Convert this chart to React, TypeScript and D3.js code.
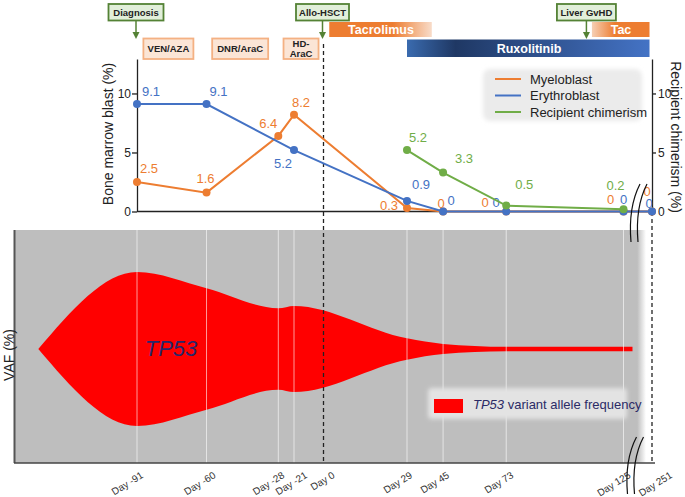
import React, { useEffect, useRef } from 'react';
import * as d3 from 'd3';

// Timeline (days relative to transplant)
const tickDays = [-91, -60, -28, -21, 0, 29, 45, 73, 125, 251];
const tickLabels = ['Day -91', 'Day -60', 'Day -28', 'Day -21', 'Day 0', 'Day 29', 'Day 45', 'Day 73', 'Day 125', 'Day 251'];

// Bone marrow blast (%)
const myeloDays = [-91, -60, -28, -21, 29, 45, 73, 125, 251];
const myeloValues = [2.5, 1.6, 6.4, 8.2, 0.3, 0, 0, 0, 0];
const erythroDays = [-91, -60, -21, 29, 45, 73, 125, 251];
const erythroValues = [9.1, 9.1, 5.2, 0.9, 0, 0, 0, 0];

// Recipient chimerism (%)
const chimDays = [29, 45, 73, 125];
const chimValues = [5.2, 3.3, 0.5, 0.2];

// TP53 VAF (%), drawn as a symmetric band
const vafDays = [-135, -91, -60, -28, -21, 29, 45, 73, 125];
const vafValues = [0, 44, 34.7, 23.3, 24.6, 6.1, 2.9, 1.3, 1.3];

// Annotations
const events = ['Diagnosis', 'Allo-HSCT', 'Liver GvHD'];
const eventDays = [-91, 0, 109];
const treatments = [['VEN/AZA'], ['DNR/AraC'], ['HD-', 'AraC']];
const treatmentDays = [-77, -45, -16];
const drugs = ['Tacrolimus', 'Ruxolitinib', 'Tac'];
const drugStart = [2, 29, 111];
const drugEnd = [40, 240, 240];

const seriesNames = ['Myeloblast', 'Erythroblast', 'Recipient chimerism'];

const ORANGE = '#ED7D31';
const BLUE = '#4472C4';
const GREEN = '#70AD47';
const FONT = '"Liberation Sans", Arial, sans-serif';

// value-label nudges [dx, dy] relative to each point
const myeloNudge = [[12, -9], [-1, -10], [-10, -8], [7, -8], [-18, 2], [-2, -4], [-21, -5], [-13, -8], [-5, -16]];
const erythroNudge = [[14, -8], [12, -8], [-11, 18], [14, -12], [8, -7], [-10, -5], [0, -8], [-3, -4]];
const chimNudge = [[11, -8], [21, -10], [18, -17], [-8, -19]];
const tickShift = [7, 10, 7, 14, 12, 6, 7, 8, 8, 21];

const App = () => {
  const ref = useRef<SVGSVGElement>(null);

  useEffect(() => {
    const svg = d3.select(ref.current);
    svg.selectAll('*').remove();

    const width = 685;
    const height = 497;

    // broken, piecewise time scale
    const x = d3.scaleLinear()
      .domain([-91, -21, 0, 29, 125, 251])
      .range([137, 294, 323.5, 407, 623.5, 652]);

    const y = d3.scaleLinear().domain([0, 12.92]).range([211.5, 59]);
    const yR = d3.scaleLinear().domain([0, 12.92]).range([211.5, 59]);

    const defs = svg.append('defs');
    const grad = (id: string, stops: [number, string][]) => {
      const g = defs.append('linearGradient').attr('id', id);
      stops.forEach(([o, c]) => g.append('stop').attr('offset', o).attr('stop-color', c));
      return g;
    };
    grad('tacro', [[0, ORANGE], [0.62, ORANGE], [1, '#F8DCC9']]);
    grad('tac', [[0, '#F6CFB4'], [0.4, ORANGE], [1, ORANGE]]);
    grad('rux', [[0, '#3A6BAF'], [0.2, '#1F3864'], [1, '#4473C5']]);
    grad('panel', [[0, '#BEBEBE'], [0.6, '#BEBEBE'], [1, '#ffffff']])
      .attr('gradientUnits', 'userSpaceOnUse').attr('x1', 624).attr('x2', 646);
    defs.append('filter').attr('id', 'soft').attr('x', '-10%').attr('y', '-30%').attr('width', '120%').attr('height', '160%')
      .append('feGaussianBlur').attr('stdDeviation', 2);

    // ---------- lower panel: TP53 VAF ----------
    const panelTop = 230;
    const panelBottom = 463;
    svg.append('rect')
      .attr('x', 15).attr('y', panelTop)
      .attr('width', 631).attr('height', panelBottom - panelTop)
      .attr('fill', 'url(#panel)');

    const cy = 349;
    const half = d3.scaleLinear().domain([0, 50]).range([0, 87.5]);
    const vafData = vafDays.map((d, i) => ({ day: d, v: vafValues[i] }));
    const last = vafData[vafData.length - 1];
    const area = d3.area<{ day: number; v: number; px?: number }>()
      .x(d => x(d.day) + (d.px || 0))
      .y0(d => cy - half(d.v))
      .y1(d => cy + half(d.v))
      .curve(d3.curveMonotoneX);
    svg.append('path')
      .datum([...vafData, { day: last.day, v: last.v, px: 9 }])
      .attr('d', area as any)
      .attr('fill', '#FF0000');

    // gridlines
    tickDays.filter(d => d !== 0 && d !== 251).forEach(d => {
      svg.append('line')
        .attr('x1', x(d)).attr('x2', x(d))
        .attr('y1', panelTop).attr('y2', panelBottom)
        .attr('stroke', '#fff').attr('stroke-opacity', 0.6).attr('stroke-width', 1);
    });

    svg.append('text')
      .attr('x', 171).attr('y', 356)
      .attr('text-anchor', 'middle')
      .attr('font-family', FONT).attr('font-style', 'italic')
      .attr('font-size', 22).attr('fill', '#27276b')
      .text('TP53');

    // lower legend
    svg.append('rect')
      .attr('x', 428).attr('y', 388).attr('width', 199).attr('height', 31).attr('rx', 4)
      .attr('fill', '#e3e3e3').attr('filter', 'url(#soft)');
    svg.append('rect')
      .attr('x', 434).attr('y', 399).attr('width', 29).attr('height', 14).attr('fill', '#FF0000');
    const lt = svg.append('text')
      .attr('x', 473).attr('y', 408.5)
      .attr('font-family', FONT).attr('font-size', 13).attr('fill', '#2b2b66');
    lt.append('tspan').attr('font-style', 'italic').text('TP53');
    lt.append('tspan').text(' variant allele frequency');

    // panel axes
    svg.append('line')
      .attr('x1', 14.5).attr('x2', 14.5).attr('y1', panelTop).attr('y2', panelBottom)
      .attr('stroke', '#555').attr('stroke-width', 2);
    svg.append('line')
      .attr('x1', 14).attr('x2', 655).attr('y1', panelBottom).attr('y2', panelBottom)
      .attr('stroke', '#444').attr('stroke-width', 1.5);

    svg.append('text')
      .attr('transform', 'translate(13.5,355) rotate(-90)')
      .attr('text-anchor', 'middle')
      .attr('font-family', FONT).attr('font-size', 14).attr('fill', '#222')
      .text('VAF (%)');

    // rotated day labels
    tickDays.forEach((d, i) => {
      svg.append('text')
        .attr('transform', `translate(${x(d) + tickShift[i]},477) rotate(-32)`)
        .attr('text-anchor', 'end')
        .attr('font-family', FONT).attr('font-size', 10).attr('fill', '#333')
        .text(tickLabels[i]);
    });

    // dashed markers
    svg.append('line')
      .attr('x1', x(0)).attr('x2', x(0)).attr('y1', 44).attr('y2', panelBottom)
      .attr('stroke', '#222').attr('stroke-width', 1.3).attr('stroke-dasharray', '4,3');
    svg.append('line')
      .attr('x1', x(251)).attr('x2', x(251)).attr('y1', 212).attr('y2', panelBottom)
      .attr('stroke', '#222').attr('stroke-width', 1.3).attr('stroke-dasharray', '4,3');

    // ---------- upper panel: blasts & chimerism ----------
    const gL = svg.append('g').attr('transform', `translate(${x(-91)},0)`)
      .call(d3.axisLeft(y).tickValues([0, 5, 10]).tickSize(5).tickSizeOuter(0).tickPadding(1));
    const gR = svg.append('g').attr('transform', `translate(${x(251)},0)`)
      .call(d3.axisRight(yR).tickValues([0, 5, 10]).tickSize(4).tickSizeOuter(0).tickPadding(2));
    [gL, gR].forEach(g => {
      g.selectAll('text').attr('font-family', FONT).attr('font-size', 12).attr('fill', '#222');
      g.selectAll('path,line').attr('stroke', '#222').attr('stroke-width', 1.3);
    });
    svg.append('line')
      .attr('x1', x(-91)).attr('x2', x(251)).attr('y1', y(0)).attr('y2', y(0))
      .attr('stroke', '#222').attr('stroke-width', 1.3);

    svg.append('text')
      .attr('transform', 'translate(112.5,134) rotate(-90)')
      .attr('text-anchor', 'middle')
      .attr('font-family', FONT).attr('font-size', 14).attr('fill', '#222')
      .text('Bone marrow blast (%)');
    svg.append('text')
      .attr('transform', 'translate(671,137) rotate(90)')
      .attr('text-anchor', 'middle')
      .attr('font-family', FONT).attr('font-size', 14).attr('fill', '#222')
      .text('Recipient chimerism (%)');

    const series = [
      { days: myeloDays, values: myeloValues, color: ORANGE, scale: y, nudge: myeloNudge },
      { days: erythroDays, values: erythroValues, color: BLUE, scale: y, nudge: erythroNudge },
      { days: chimDays, values: chimValues, color: GREEN, scale: yR, nudge: chimNudge },
    ];

    series.forEach(s => {
      const pts = s.days.map((d, i) => [x(d), s.scale(s.values[i])] as [number, number]);
      svg.append('path')
        .attr('d', d3.line()(pts) as string)
        .attr('fill', 'none').attr('stroke', s.color).attr('stroke-width', 2);
      svg.selectAll(null).data(pts).enter().append('circle')
        .attr('cx', p => p[0]).attr('cy', p => p[1]).attr('r', 4)
        .attr('fill', s.color);
      svg.selectAll(null).data(pts).enter().append('text')
        .attr('x', (p, i) => p[0] + s.nudge[i][0])
        .attr('y', (p, i) => p[1] + s.nudge[i][1])
        .attr('text-anchor', 'middle')
        .attr('font-family', FONT).attr('font-size', 13)
        .attr('fill', s.color)
        .text((p, i) => String(s.values[i]));
    });

    // upper legend
    svg.append('rect')
      .attr('x', 483).attr('y', 69).attr('width', 159).attr('height', 52).attr('rx', 7)
      .attr('fill', '#ebebeb').attr('filter', 'url(#soft)');
    seriesNames.forEach((name, i) => {
      const ly = 79 + i * 16.5;
      svg.append('line')
        .attr('x1', 495).attr('x2', 521).attr('y1', ly).attr('y2', ly)
        .attr('stroke', series[i].color).attr('stroke-width', 2);
      svg.append('text')
        .attr('x', 530).attr('y', ly + 4.5)
        .attr('font-family', FONT).attr('font-size', 13).attr('fill', '#222')
        .text(name);
    });

    // ---------- annotations ----------
    const evWidth = [55, 53, 59];
    events.forEach((e, i) => {
      const cx = x(eventDays[i]) - 1;
      svg.append('rect')
        .attr('x', cx - evWidth[i] / 2).attr('y', 4).attr('width', evWidth[i]).attr('height', 16.5)
        .attr('fill', '#E2EFDA').attr('stroke', '#548235').attr('stroke-width', 1.8);
      svg.append('text')
        .attr('x', cx).attr('y', 15.8).attr('text-anchor', 'middle')
        .attr('font-family', FONT).attr('font-size', 9.5).attr('font-weight', 'bold').attr('fill', '#222')
        .text(e);
      svg.append('line')
        .attr('x1', cx).attr('x2', cx).attr('y1', 21).attr('y2', 34)
        .attr('stroke', '#548235').attr('stroke-width', 1.5);
      svg.append('path')
        .attr('d', `M${cx - 3.5},32 L${cx + 3.5},32 L${cx},39 Z`)
        .attr('fill', '#548235');
    });

    const trWidth = [50, 56, 35];
    treatments.forEach((t, i) => {
      const cx = x(treatmentDays[i]);
      svg.append('rect')
        .attr('x', cx - trWidth[i] / 2).attr('y', 38.5).attr('width', trWidth[i]).attr('height', 20.5)
        .attr('fill', '#FBE5D6').attr('stroke', '#F4B183').attr('stroke-width', 1.8);
      t.forEach((line, j) => {
        svg.append('text')
          .attr('x', cx).attr('y', t.length === 1 ? 52 : 47 + j * 10)
          .attr('text-anchor', 'middle')
          .attr('font-family', FONT).attr('font-size', 9.5).attr('font-weight', 'bold').attr('fill', '#222')
          .text(line);
      });
    });

    const drugRow = [[22, 15], [39.5, 17.5], [22, 15]];
    const drugFill = ['url(#tacro)', 'url(#rux)', 'url(#tac)'];
    const drugTextX = [381, 529, 621];
    drugs.forEach((dname, i) => {
      const x0 = x(drugStart[i]);
      const x1 = x(drugEnd[i]);
      svg.append('rect')
        .attr('x', x0).attr('y', drugRow[i][0]).attr('width', x1 - x0).attr('height', drugRow[i][1])
        .attr('fill', drugFill[i]);
      svg.append('text')
        .attr('x', drugTextX[i]).attr('y', drugRow[i][0] + drugRow[i][1] / 2 + 4.5)
        .attr('text-anchor', 'middle')
        .attr('font-family', FONT).attr('font-size', 12.5).attr('font-weight', 'bold').attr('fill', '#fff')
        .text(dname);
    });

    // axis-break marks
    const brk = (bx: number, by: number, h: number) =>
      `M${bx + 9},${by} Q${bx - 3},${by + h * 0.4} ${bx},${by + h}`;
    [[631, 184, 58], [627.5, 437, 57]].forEach(([bx, by, h]) => {
      [0, 7].forEach(off => {
        svg.append('path')
          .attr('d', brk(bx + off, by, h))
          .attr('fill', 'none').attr('stroke', '#111').attr('stroke-width', 1.2);
      });
    });

    svg.attr('width', width).attr('height', height);
  }, []);

  return (
    <svg
      ref={ref}
      width={685}
      height={497}
      style={{ position: 'absolute', left: 0, top: 0, background: '#fff' }}
    />
  );
};

export default App;
